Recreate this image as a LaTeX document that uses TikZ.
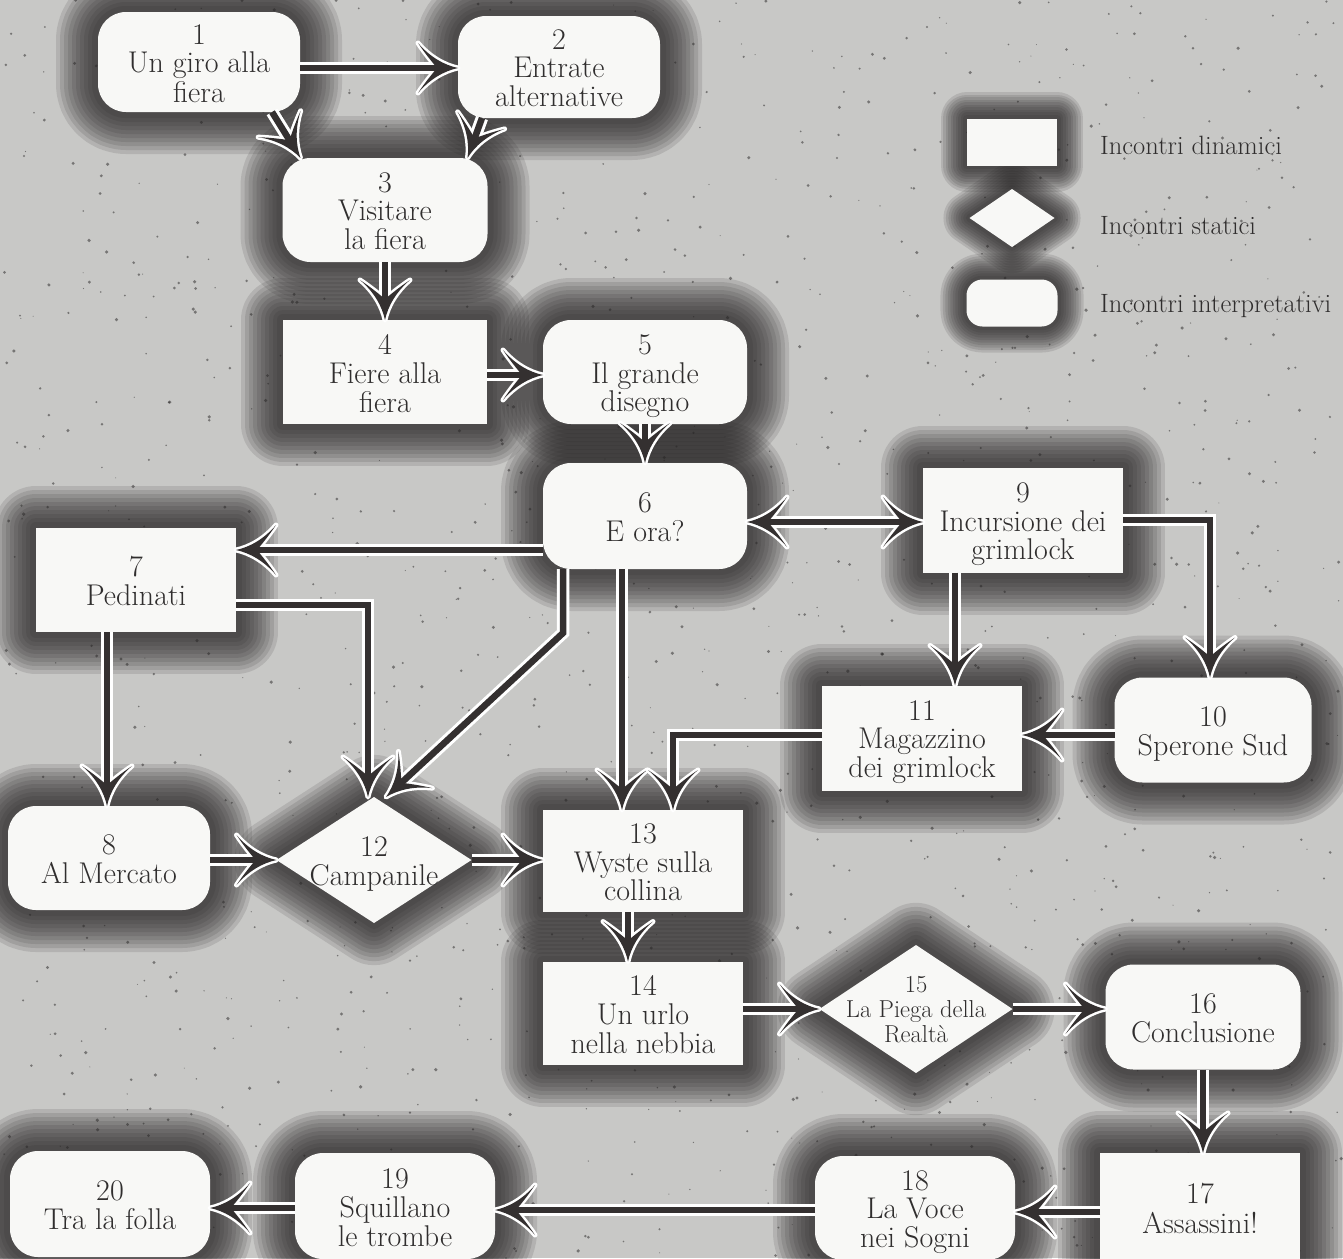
\documentclass[tikz,border=0pt]{standalone}
\usetikzlibrary{shapes.geometric,decorations.markings}
\definecolor{bgc}{RGB}{200,200,198}
\definecolor{haloc}{RGB}{38,36,36}
\definecolor{arrc}{RGB}{52,48,48}
\definecolor{nodefill}{RGB}{248,248,246}
\definecolor{textc}{RGB}{48,46,46}
\newcommand\nfont{\fontsize{30}{27}\selectfont}
\newcommand\dfont{\fontsize{24.5}{25}\selectfont}
\newcommand\lfont{\fontsize{26.5}{28}\selectfont}
\newcommand\ntext[1]{\smash{\makebox[0pt]{\raisebox{-.38em}{\begin{tabular}{@{}c@{}}#1\end{tabular}}}}}
\newcommand\headW{\filldraw[white,line width=5,line join=round] (0,0) .. controls (-14,3) and (-28,11) .. (-40,25) .. controls (-32,13) and (-25,5) .. (-21,0) .. controls (-25,-5) and (-32,-13) .. (-40,-25) .. controls (-28,-11) and (-14,-3) .. (0,0) -- cycle;}
\newcommand\headD{\fill[arrc] (0,0) .. controls (-14,3) and (-28,11) .. (-40,25) .. controls (-32,13) and (-25,5) .. (-21,0) .. controls (-25,-5) and (-32,-13) .. (-40,-25) .. controls (-28,-11) and (-14,-3) .. (0,0) -- cycle;}
\newcommand\allnodes[1]{%
\node[rbox,#1,minimum width=202,minimum height=100] (n1) at (199,62) {\ntext{1\\Un giro alla\\fiera}};
\node[rbox,#1,minimum width=202,minimum height=102] (n2) at (559,67) {\ntext{2\\Entrate\\alternative}};
\node[rbox,#1,minimum width=205,minimum height=104] (n3) at (385,210) {\ntext{3\\Visitare\\la fiera}};
\node[sbox,#1,minimum width=204,minimum height=104] (n4) at (385,372) {\ntext{4\\Fiere alla\\fiera}};
\node[rbox,#1,minimum width=204,minimum height=104] (n5) at (645,372) {\ntext{5\\Il grande\\disegno}};
\node[rbox,#1,minimum width=204,minimum height=106] (n6) at (645,516) {\ntext{6\\E ora?}};
\node[sbox,#1,minimum width=200,minimum height=104] (n7) at (136,580) {\ntext{7\\Pedinati}};
\node[sbox,#1,minimum width=200,minimum height=105] (n9) at (1023,520) {\ntext{9\\Incursione dei\\grimlock}};
\node[rbox,#1,minimum width=197,minimum height=105] (n10) at (1213,730) {\ntext{10\\Sperone Sud}};
\node[sbox,#1,minimum width=200,minimum height=105] (n11) at (922,738) {\ntext{11\\Magazzino\\dei grimlock}};
\node[rbox,#1,minimum width=202,minimum height=104] (n8) at (109,858) {\ntext{8\\Al Mercato}};
\node[dbox,#1,minimum width=195,minimum height=126] (n12) at (374,860) {\ntext{12\\Campanile}};
\node[sbox,#1,minimum width=200,minimum height=102] (n13) at (643,861) {\ntext{13\\Wyste sulla\\collina}};
\node[sbox,#1,minimum width=200,minimum height=103] (n14) at (643,1013) {\ntext{14\\Un urlo\\nella nebbia}};
\node[dbox,#1,minimum width=193,minimum height=128,font=\dfont] (n15) at (916,1009) {\ntext{15\\La Piega della\\Realtà}};
\node[rbox,#1,minimum width=195,minimum height=105] (n16) at (1203,1017) {\ntext{16\\Conclusione}};
\node[sbox,#1,minimum width=200,minimum height=108] (n17) at (1200,1207) {\ntext{17\\Assassini!}};
\node[rbox,#1,minimum width=200,minimum height=104] (n18) at (915,1208) {\ntext{18\\La Voce\\nei Sogni}};
\node[rbox,#1,minimum width=200,minimum height=106] (n19) at (395,1206) {\ntext{19\\Squillano\\le trombe}};
\node[rbox,#1,minimum width=200,minimum height=106] (n20) at (110,1204) {\ntext{20\\Tra la folla}};
\node[sbox,#1,lh,minimum width=90,minimum height=47] (la) at (1012,142) {};
\node[dbox,#1,lh,minimum width=85,minimum height=58] (lb) at (1012,218) {};
\node[rbox,#1,lh,rounded corners=16,minimum width=91,minimum height=47] (lc) at (1012,303) {};
}
\begin{document}
\begin{tikzpicture}[x=1pt,y=-1pt,
  base/.style={fill=nodefill,draw=none,inner sep=0pt,outer sep=0pt,font=\nfont,text=textc},
  rbox/.style={base,rectangle,rounded corners=28},
  sbox/.style={base,rectangle},
  dbox/.style={base,diamond},
  halo/.style={fill=none,draw=haloc,line width=#1,draw opacity=.13,text opacity=0,line join=round},
  lh/.style={line width=0.62\pgflinewidth},
  arr/.style={draw=arrc,line width=6.5,shorten >=18pt,
    preaction={draw=white,line width=12.5,shorten >=18pt},
    preaction={decorate,decoration={markings,mark=at position 1 with {\headW}}},
    postaction={decorate,decoration={markings,mark=at position 1 with {\headD}}}},
  arrboth/.style={draw=arrc,line width=6.5,shorten >=18pt,shorten <=18pt,
    preaction={draw=white,line width=12.5,shorten >=18pt,shorten <=18pt},
    preaction={decorate,decoration={markings,
      mark=at position 0 with {\begin{scope}[xscale=-1]\headW\end{scope}},
      mark=at position 1 with {\headW}}},
    postaction={decorate,decoration={markings,
      mark=at position 0 with {\begin{scope}[xscale=-1]\headD\end{scope}},
      mark=at position 1 with {\headD}}}},
  legtext/.style={anchor=west,font=\lfont,text=textc,inner sep=0pt}
]
\useasboundingbox (0,0) rectangle (1343,1258);
\fill[bgc] (0,0) rectangle (1343,1258);
\foreach \w in {84,76,...,12} {\allnodes{halo=\w}}
\pgfmathsetseed{4711}
\foreach \i in {1,...,1400} {%
  \pgfmathsetmacro\xx{rnd*1343}\pgfmathsetmacro\yy{rnd*1258}\pgfmathsetmacro\rr{0.5+rnd*1.3}%
  \fill[haloc,opacity=.5] (\xx,\yy) circle (\rr pt);}
\allnodes{}
\node[legtext] (ta) at (1100,145) {Incontri dinamici};
\node[legtext] (tb) at (1100,226) {Incontri statici};
\node[legtext] (tc) at (1100,306) {Incontri interpretativi};
% connectors
\draw[arr] (n1.east |- 0,68) -- (n2.west |- 0,68);
\draw[arr] (272,0 |- n1.south) -- ([xshift=18pt]n3.north west);
\draw[arr] (482,0 |- n2.south) -- ([xshift=-20pt]n3.north east);
\draw[arr] (n3.south) -- (n4.north);
\draw[arr] (n4.east |- 0,375) -- (n5.west |- 0,375);
\draw[arr] (n5.south) -- (n6.north);
\draw[arr] (n6.west |- 0,550) -- (n7.east |- 0,550);
\draw[arrboth] (n6.east |- 0,522) -- (n9.west |- 0,522);
\draw[arr] (n7.east |- 0,605) -| ([xshift=-6pt]n12.north);
\coordinate (k6) at (563,633);
\draw[arr] (563,0 |- n6.south) -- (k6) -- ([xshift=12pt]n12.north);
\draw[arr] (622,0 |- n6.south) -- (622,0 |- n13.north);
\draw[arr] (107,0 |- n7.south) -- (107,0 |- n8.north);
\draw[arr] (955,0 |- n9.south) -- (955,0 |- n11.north);
\draw[arr] (n9.east) -| ([xshift=-3pt]n10.north);
\draw[arr] (n10.west |- 0,735) -- (n11.east |- 0,735);
\draw[arr] (n11.west |- 0,735) -| (673,0 |- n13.north);
\draw[arr] (n8.east |- n12.west) -- (n12.west);
\draw[arr] (n12.east) -- (n13.west |- n12.east);
\draw[arr] (628,0 |- n13.south) -- (628,0 |- n14.north);
\draw[arr] (n14.east |- n15.west) -- (n15.west);
\draw[arr] (n15.east) -- (n16.west |- n15.east);
\draw[arr] (n16.south) -- (n16.south |- n17.north);
\draw[arr] (n17.west |- 0,1212) -- (n18.east |- 0,1212);
\draw[arr] (n18.west |- 0,1210) -- (n19.east |- 0,1210);
\draw[arr] (n19.west |- 0,1208) -- (n20.east |- 0,1208);
\end{tikzpicture}
\end{document}
